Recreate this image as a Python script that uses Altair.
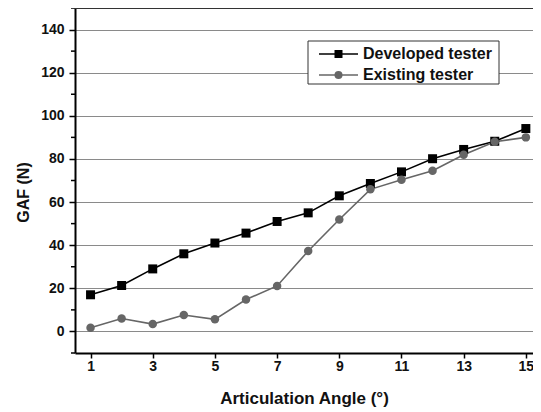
import altair as alt
import pandas as pd

# ---- data ----
angles = list(range(1, 16))
developed = [17.0, 21.3, 29.0, 36.0, 41.0, 45.6, 51.0, 55.0, 62.9, 68.6, 74.0, 80.1, 84.4, 88.2, 94.1]
existing = [1.7, 6.0, 3.4, 7.6, 5.6, 14.8, 21.1, 37.3, 51.9, 65.9, 70.3, 74.5, 81.9, 88.0, 90.0]
series_names = ["Developed tester", "Existing tester"]
series_colors = ["#000000", "#666666"]
series_shapes = ["square", "circle"]
x_ticks = list(range(1, 16))
y_major = [0, 20, 40, 60, 80, 100, 120, 140]
y_minor = [-10, 10, 30, 50, 70, 90, 110, 130, 150]
x_title = "Articulation Angle (°)"
y_title = "GAF (N)"

rows = []
for a, d, e in zip(angles, developed, existing):
    rows.append({"angle": a, "value": d, "series": series_names[0]})
    rows.append({"angle": a, "value": e, "series": series_names[1]})
df = pd.DataFrame(rows)

FONT = "Liberation Sans"
xscale = alt.Scale(domain=[0.5, 15.23], nice=False, zero=False)
yscale = alt.Scale(domain=[-10, 150], nice=False, zero=False)
cscale = alt.Scale(domain=series_names, range=series_colors)

x_axis = alt.Axis(
    values=x_ticks,
    labelExpr="datum.value % 2 === 1 ? datum.label : ''",
    grid=False, tickSize=5, tickWidth=1.5, tickColor="#000",
    domainColor="#000", domainWidth=2,
    labelFontSize=14, labelFontWeight="bold", labelColor="#111", labelPadding=1,
    labelFont=FONT, labelFlush=False,
    title=x_title, titleFont=FONT, titleFontSize=17, titleFontWeight="bold",
    titleColor="#111", titleBaseline="alphabetic", titleY=50,
)
y_axis = alt.Axis(
    values=y_major,
    grid=True, gridColor="#8a8a8a", gridWidth=1,
    tickSize=6, tickWidth=1.5, tickColor="#000",
    domainColor="#000", domainWidth=2,
    labelFontSize=14, labelFontWeight="bold", labelColor="#111", labelPadding=5,
    labelFont=FONT, labelFlush=False,
    title=y_title, titleFont=FONT, titleFontSize=16, titleFontWeight="bold",
    titleColor="#111", titleAngle=-90, titleBaseline="alphabetic",
    titleX=-47, titleY=184, titleAlign="center",
)

lines = alt.Chart(df).mark_line(strokeWidth=1.6).encode(
    x=alt.X("angle:Q", scale=xscale, axis=x_axis),
    y=alt.Y("value:Q", scale=yscale, axis=y_axis),
    color=alt.Color("series:N", scale=cscale, legend=None),
    detail="series:N",
)

points = alt.Chart(df).mark_point(filled=True, opacity=1).encode(
    x=alt.X("angle:Q", scale=xscale),
    y=alt.Y("value:Q", scale=yscale),
    color=alt.Color("series:N", scale=cscale, legend=None),
    shape=alt.Shape("series:N", scale=alt.Scale(domain=series_names, range=series_shapes), legend=None),
    size=alt.Size("series:N", scale=alt.Scale(domain=series_names, range=[81, 72]), legend=None),
)

top_frame = alt.Chart(pd.DataFrame({"y": [150]})).mark_rule(color="#333", strokeWidth=2).encode(
    y=alt.Y("y:Q", scale=yscale)
)

minor_ticks = alt.Chart(pd.DataFrame({"v": y_minor})).mark_rule(color="#000", strokeWidth=1.5).encode(
    y=alt.Y("v:Q", scale=yscale),
    x=alt.value(-4), x2=alt.value(0),
)

one = pd.DataFrame({"k": [0]})
legend_layers = [
    alt.Chart(one).mark_rect(fill="white", stroke="#333", strokeWidth=1).encode(
        x=alt.value(233), x2=alt.value(424), y=alt.value(33), y2=alt.value(76)
    )
]
row_y = [46, 67]
for name, col, shp, sz, yy in zip(series_names, series_colors, series_shapes, [64, 64], row_y):
    legend_layers.append(
        alt.Chart(one).mark_rule(color=col, strokeWidth=1.6).encode(
            x=alt.value(244), x2=alt.value(283), y=alt.value(yy)
        )
    )
    legend_layers.append(
        alt.Chart(one).mark_point(filled=True, opacity=1, color=col, shape=shp, size=sz).encode(
            x=alt.value(263.5), y=alt.value(yy)
        )
    )
    legend_layers.append(
        alt.Chart(one).mark_text(align="left", baseline="middle", font=FONT, fontSize=16,
                                 fontWeight="bold", color="#111").encode(
            x=alt.value(288), y=alt.value(yy), text=alt.value(name)
        )
    )

chart = alt.layer(lines, points, top_frame, minor_ticks, *legend_layers).properties(
    width=458, height=345,
    padding={"left": 67, "top": 0, "right": 0, "bottom": 55},
    autosize=alt.AutoSizeParams(type="none"),
).configure_view(stroke=None).configure(font=FONT)

chart.save("out.html", embed_options={"renderer": "svg", "actions": False})
